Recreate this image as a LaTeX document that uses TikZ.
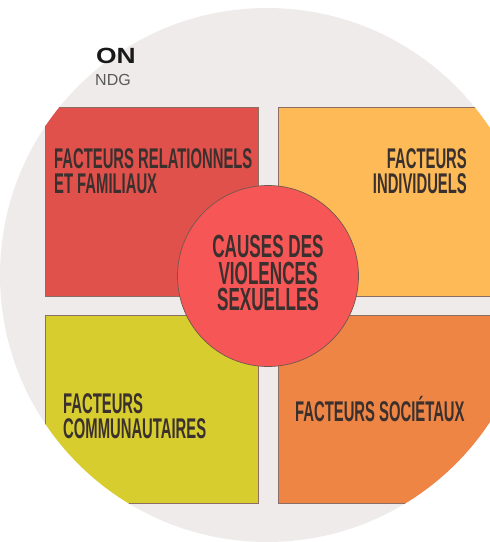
\documentclass[tikz,border=0pt]{standalone}
\usepackage{fontspec}
\setmainfont{Liberation Sans}
\newfontfamily\cond{Liberation Sans}[FakeStretch=0.52]
\newfontfamily\condc{Liberation Sans}[FakeStretch=0.535]
\definecolor{bgc}{HTML}{EFEBEB}
\definecolor{redc}{HTML}{E0514C}
\definecolor{lorc}{HTML}{FDBA56}
\definecolor{yelc}{HTML}{D8CD2E}
\definecolor{orc}{HTML}{EE8545}
\definecolor{cenc}{HTML}{F75657}
\definecolor{txtc}{HTML}{3A302E}
\definecolor{edgec}{HTML}{8C6E62}
\tikzset{
  quad/.style={draw=edgec, line width=0.7pt},
  boxtext/.style={inner sep=0pt, text=txtc, font=\cond\bfseries\fontsize{28.5}{25}\selectfont},
  centext/.style={inner sep=0pt, text=txtc, align=center, font=\condc\bfseries\fontsize{32}{26.5}\selectfont},
}
\begin{document}
\begin{tikzpicture}[x=1pt,y=-1pt]
\useasboundingbox (0,0) rectangle (490,542);
\begin{scope}
  \clip (267,275) circle (267);
  \fill[bgc] (267,275) circle (267);
  \path[quad, fill=redc] (45,107) rectangle (258,296);
  \path[quad, fill=lorc] (278,107) rectangle (540,296);
  \path[quad, fill=yelc] (45,315) rectangle (258,503);
  \path[quad, fill=orc] (278,315) rectangle (540,503);
\end{scope}
\node[anchor=base west, inner sep=0pt, text=black!90, font=\bfseries\fontsize{22}{22}\selectfont] (ttl) at (96,63) {\scalebox{1.2}[1]{ON}};
\node[anchor=base west, inner sep=0pt, text=black!65, font=\fontsize{16}{16}\selectfont] (sub) at (95,85) {NDG};
\node[circle, draw=edgec!80!black, line width=0.7pt, fill=cenc, minimum size=181pt, inner sep=0pt] (cen) at (268,276) {};
\node[centext] (centxt) at (268,273) {CAUSES DES\\VIOLENCES\\SEXUELLES};
\node[boxtext, anchor=north west, align=left] (rel) at (54,148) {FACTEURS RELATIONNELS\\ET FAMILIAUX};
\node[boxtext, anchor=north east, align=right] (ind) at (467,148) {FACTEURS\\INDIVIDUELS};
\node[boxtext, anchor=north west, align=left] (com) at (63,393) {FACTEURS\\COMMUNAUTAIRES};
\node[boxtext, anchor=base west] (soc) at (295,421) {FACTEURS SOCIÉTAUX};
\end{tikzpicture}
\end{document}
